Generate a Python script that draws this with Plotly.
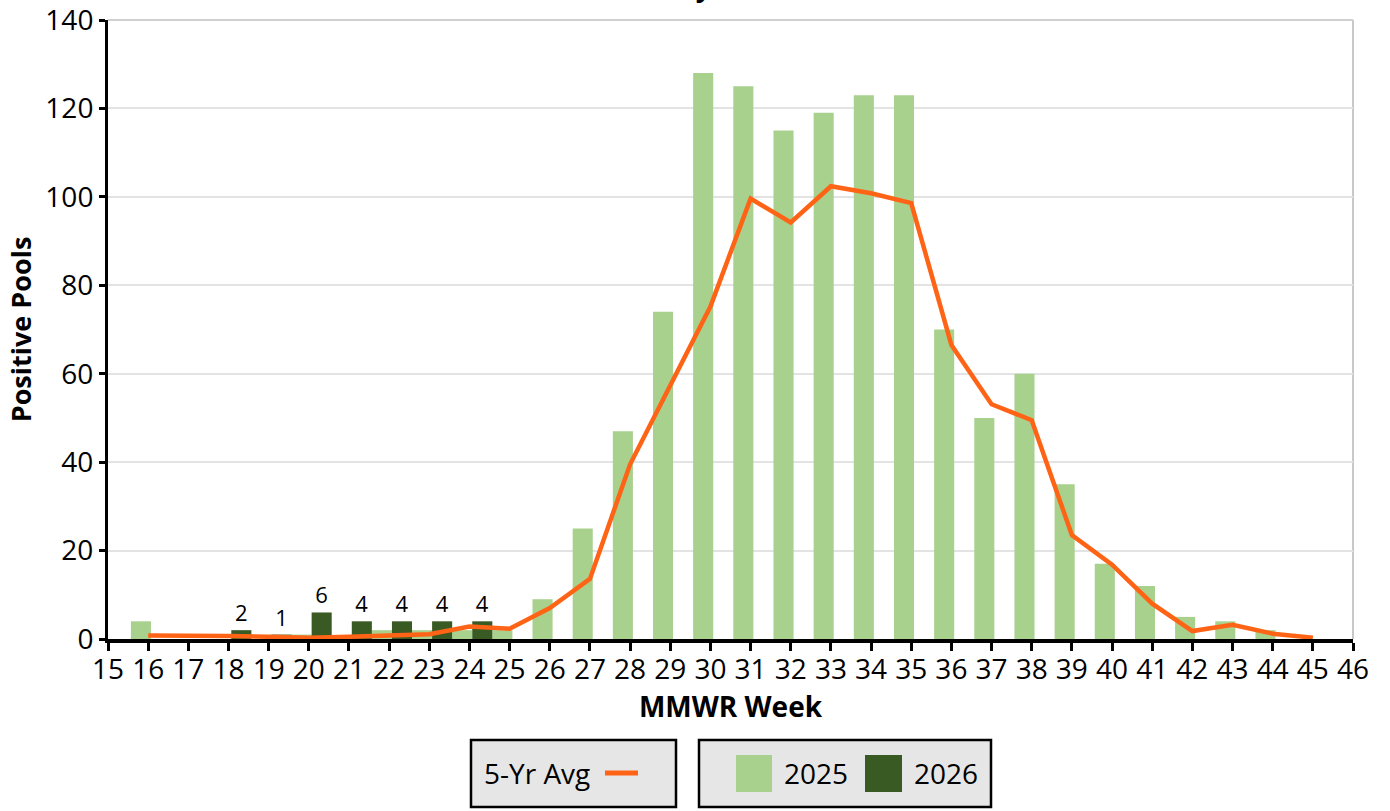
import plotly.graph_objects as go

# ---------------- data ----------------
weeks_2025 = list(range(16, 46))
pools_2025 = [4, 0, 0, 0, 1, 0, 2, 2, 2, 2, 9, 25, 47, 74, 128, 125, 115, 119,
              123, 123, 70, 50, 60, 35, 17, 12, 5, 4, 2, 0]

weeks_2026 = [18, 19, 20, 21, 22, 23, 24]
pools_2026 = [2, 1, 6, 4, 4, 4, 4]

weeks_avg = list(range(16, 46))
avg_5yr = [0.8, 0.8, 0.7, 0.5, 0.3, 0.5, 0.7, 1.1, 2.8, 2.3, 7.0, 13.6, 39.5,
           57.5, 75.2, 99.6, 94.2, 102.4, 100.8, 98.6, 66.5, 53.1, 49.5, 23.5,
           16.8, 8.0, 1.8, 3.2, 1.2, 0.3]

x_ticks = list(range(15, 47))
y_ticks = list(range(0, 141, 20))

# ---------------- style ----------------
C2025 = "#A9D18E"
C2026 = "#3A5A23"
CAVG = "#FF6315"
FONT = "Open Sans"
W, H = 1390, 811
L, R, T, B = 108, 37, 20, 172
PW, PH = W - L - R, H - T - B


def px(xp):  # page pixel -> paper x
    return (xp - L) / PW


def py(yp):  # page pixel -> paper y
    return (H - B - yp) / PH


fig = go.Figure()
fig.add_trace(go.Bar(x=weeks_2025, y=pools_2025, name="2025", width=0.5, offset=-0.43,
                     marker=dict(color=C2025, line=dict(width=0)), showlegend=False))
fig.add_trace(go.Bar(x=weeks_2026, y=pools_2026, name="2026", width=0.5, offset=0.07,
                     marker=dict(color=C2026, line=dict(width=0)),
                     text=pools_2026, texttemplate="%{text}", textposition="outside",
                     constraintext="none", cliponaxis=False,
                     textfont=dict(family=FONT, size=22, color="black"), showlegend=False))
fig.add_trace(go.Scatter(x=weeks_avg, y=avg_5yr, mode="lines", name="5-Yr Avg",
                         line=dict(color=CAVG, width=4.5), showlegend=False))

# legend boxes drawn manually
shapes = [
    dict(type="rect", xref="paper", yref="paper", x0=px(471), x1=px(676), y0=py(807), y1=py(740),
         fillcolor="#E7E6E6", line=dict(color="black", width=2.5), layer="below"),
    dict(type="rect", xref="paper", yref="paper", x0=px(699), x1=px(991), y0=py(807), y1=py(740),
         fillcolor="#E7E6E6", line=dict(color="black", width=2.5), layer="below"),
    dict(type="line", xref="paper", yref="paper", x0=px(605), x1=px(638), y0=py(773), y1=py(773),
         line=dict(color=CAVG, width=5)),
    dict(type="rect", xref="paper", yref="paper", x0=px(736), x1=px(772), y0=py(792), y1=py(755),
         fillcolor=C2025, line=dict(width=0)),
    dict(type="rect", xref="paper", yref="paper", x0=px(865), x1=px(902), y0=py(792), y1=py(755),
         fillcolor=C2026, line=dict(width=0)),
    # right and top border of plot area
    dict(type="line", xref="paper", yref="paper", x0=1, x1=1, y0=0, y1=1,
         line=dict(color="#C8C8C8", width=2), layer="below"),
    dict(type="line", xref="paper", yref="paper", x0=0, x1=1, y0=1, y1=1,
         line=dict(color="#D0D0D0", width=2), layer="below"),
]
annotations = [
    dict(text="5-Yr Avg", xref="paper", yref="paper", x=px(482), y=py(773), xanchor="left",
         yanchor="middle", showarrow=False, font=dict(family=FONT, size=28, color="black")),
    dict(text="2025", xref="paper", yref="paper", x=px(782), y=py(773), xanchor="left",
         yanchor="middle", showarrow=False, font=dict(family=FONT, size=28, color="black")),
    dict(text="2026", xref="paper", yref="paper", x=px(912), y=py(773), xanchor="left",
         yanchor="middle", showarrow=False, font=dict(family=FONT, size=28, color="black")),
    dict(text="<b>WNV Positive Pools by MMWR Week (Season to Date)</b>", xref="paper", yref="paper",
         x=px(770), y=py(6), xanchor="center", yanchor="bottom", showarrow=False,
         font=dict(family=FONT, size=28, color="black")),
]

fig.update_layout(
    width=W, height=H,
    margin=dict(l=L, r=R, t=T, b=B, autoexpand=False),
    paper_bgcolor="white", plot_bgcolor="white",
    barmode="overlay",
    font=dict(family=FONT, size=28, color="black"),
    shapes=shapes, annotations=annotations,
    showlegend=False,
)
fig.update_xaxes(range=[15, 46], tickmode="array", tickvals=x_ticks, ticktext=[str(v) for v in x_ticks],
                 ticks="outside", ticklen=8, tickwidth=3, tickcolor="black", automargin=False,
                 ticklabeloverflow="allow", ticklabelstandoff=-6,
                 showline=True, linewidth=4, linecolor="black", showgrid=False, zeroline=False,
                 tickfont=dict(family=FONT, size=28, color="black"),
                 title=dict(text="<b>MMWR Week</b>", font=dict(family=FONT, size=28, color="black"),
                            standoff=0))
fig.update_yaxes(range=[0, 140], tickmode="array", tickvals=y_ticks, automargin=False,
                 ticklabeloverflow="allow",
                 ticks="outside", ticklen=6, tickwidth=3, tickcolor="black",
                 showline=True, linewidth=3, linecolor="black",
                 showgrid=True, gridcolor="#E3E3E3", gridwidth=2, zeroline=False,
                 tickfont=dict(family=FONT, size=28, color="black"),
                 title=dict(text="<b>Positive Pools</b>", font=dict(family=FONT, size=27, color="black"),
                            standoff=6))

fig.write_html("out.html", config={"displayModeBar": False},
               post_script="document.body.style.margin='0px';")
